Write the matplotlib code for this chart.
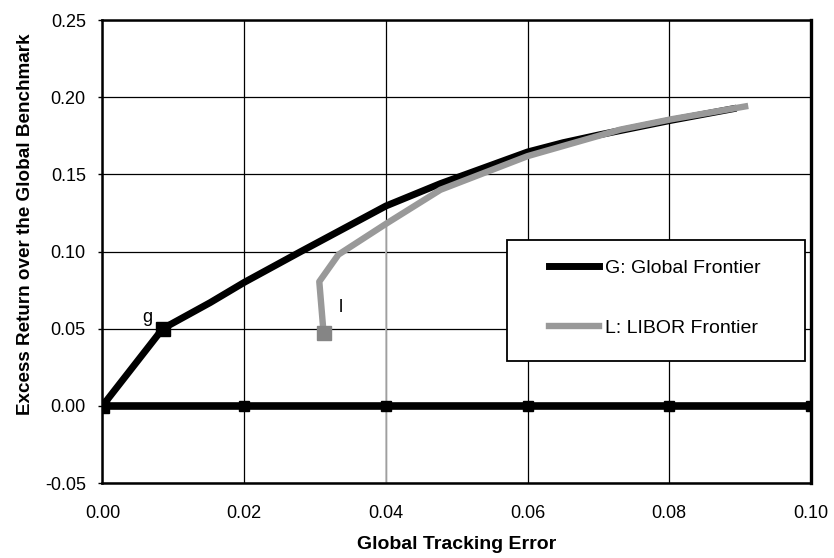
import numpy as np
import matplotlib.pyplot as plt
from matplotlib.patches import Rectangle

plt.rcParams['font.family'] = ['Liberation Sans', 'DejaVu Sans']

# G: global frontier (tracking error, excess return)
g_x = [0.0, 0.0085, 0.0152, 0.020, 0.028, 0.040, 0.0477, 0.060, 0.065, 0.070, 0.080, 0.089]
g_y = [0.0, 0.050, 0.0669, 0.080, 0.100, 0.1295, 0.144, 0.1645, 0.1705, 0.1755, 0.1848, 0.1925]

# L: LIBOR frontier
l_x = [0.0312, 0.0306, 0.0333, 0.0402, 0.0477, 0.060, 0.0731, 0.0803, 0.0907]
l_y = [0.0474, 0.0805, 0.098, 0.1185, 0.140, 0.1618, 0.179, 0.1857, 0.194]

# benchmark line along zero excess return
zero_x = [0.0, 0.02, 0.04, 0.06, 0.08, 0.10]
zero_y = [0.0, 0.0, 0.0, 0.0, 0.0, 0.0]

xticks = np.arange(0, 0.101, 0.02)
yticks = np.arange(-0.05, 0.251, 0.05)

fig = plt.figure(figsize=(8.34, 5.58), dpi=100)
ax = fig.add_axes([0.1229, 0.1344, 0.8495, 0.8297])

ax.set_xlim(0, 0.10)
ax.set_ylim(-0.05, 0.25)
ax.set_xticks(xticks)
ax.set_yticks(yticks)
ax.set_xticklabels(['%.2f' % v for v in xticks])
ax.set_yticklabels(['%.2f' % v for v in yticks])
ax.grid(True, color='black', linewidth=0.9)
ax.set_axisbelow(True)
ax.tick_params(axis='x', length=0, pad=16, labelsize=13)
ax.tick_params(axis='y', length=3, width=1, pad=9, labelsize=13)
for s in ax.spines.values():
    s.set_linewidth(1.8)
ax.spines['right'].set_linewidth(2.4)

# lighter stretch of the 0.04 gridline below the LIBOR curve
ax.vlines(0.04, -0.05, np.interp(0.04, l_x[2:], l_y[2:]), color='#c0c0c0', linewidth=1.2, zorder=1.5)

ax.plot(zero_x, zero_y, color='black', linewidth=5.5, marker='s', markersize=7, zorder=3)
ax.plot(g_x, g_y, color='black', linewidth=5, zorder=4, label='G: Global Frontier')
ax.plot(g_x[:2], g_y[:2], linestyle='none', marker='s', markersize=9.5, color='black', zorder=4)
ax.plot(l_x, l_y, color='#999999', linewidth=4.6, zorder=5, label='L: LIBOR Frontier')
ax.plot(l_x[0], l_y[0], linestyle='none', marker='s', markersize=10, color='#858585', zorder=5)

ax.text(0.0063, 0.057, 'g', fontsize=13, ha='center', va='center')
ax.text(0.0336, 0.064, 'l', fontsize=13, ha='center', va='center')

# legend box
box = Rectangle((0.571, 0.2635), 0.4205, 0.2613, transform=ax.transAxes,
                facecolor='white', edgecolor='black', linewidth=1.3, zorder=6)
ax.add_patch(box)
leg = ax.legend(loc='center left', bbox_to_anchor=(0.630, 0.3996), frameon=False,
                fontsize=14, handlelength=2.57, handletextpad=0.31, labelspacing=2.15,
                borderpad=0, borderaxespad=0)
leg.set_zorder(7)

ax.set_xlabel('Global Tracking Error', fontsize=14, fontweight='bold', labelpad=10)
ax.set_ylabel('Excess Return over the Global Benchmark', fontsize=13.6, fontweight='bold', labelpad=8)
ax.yaxis.label.set_y(0.56)

fig.savefig('out.png', dpi=100)
